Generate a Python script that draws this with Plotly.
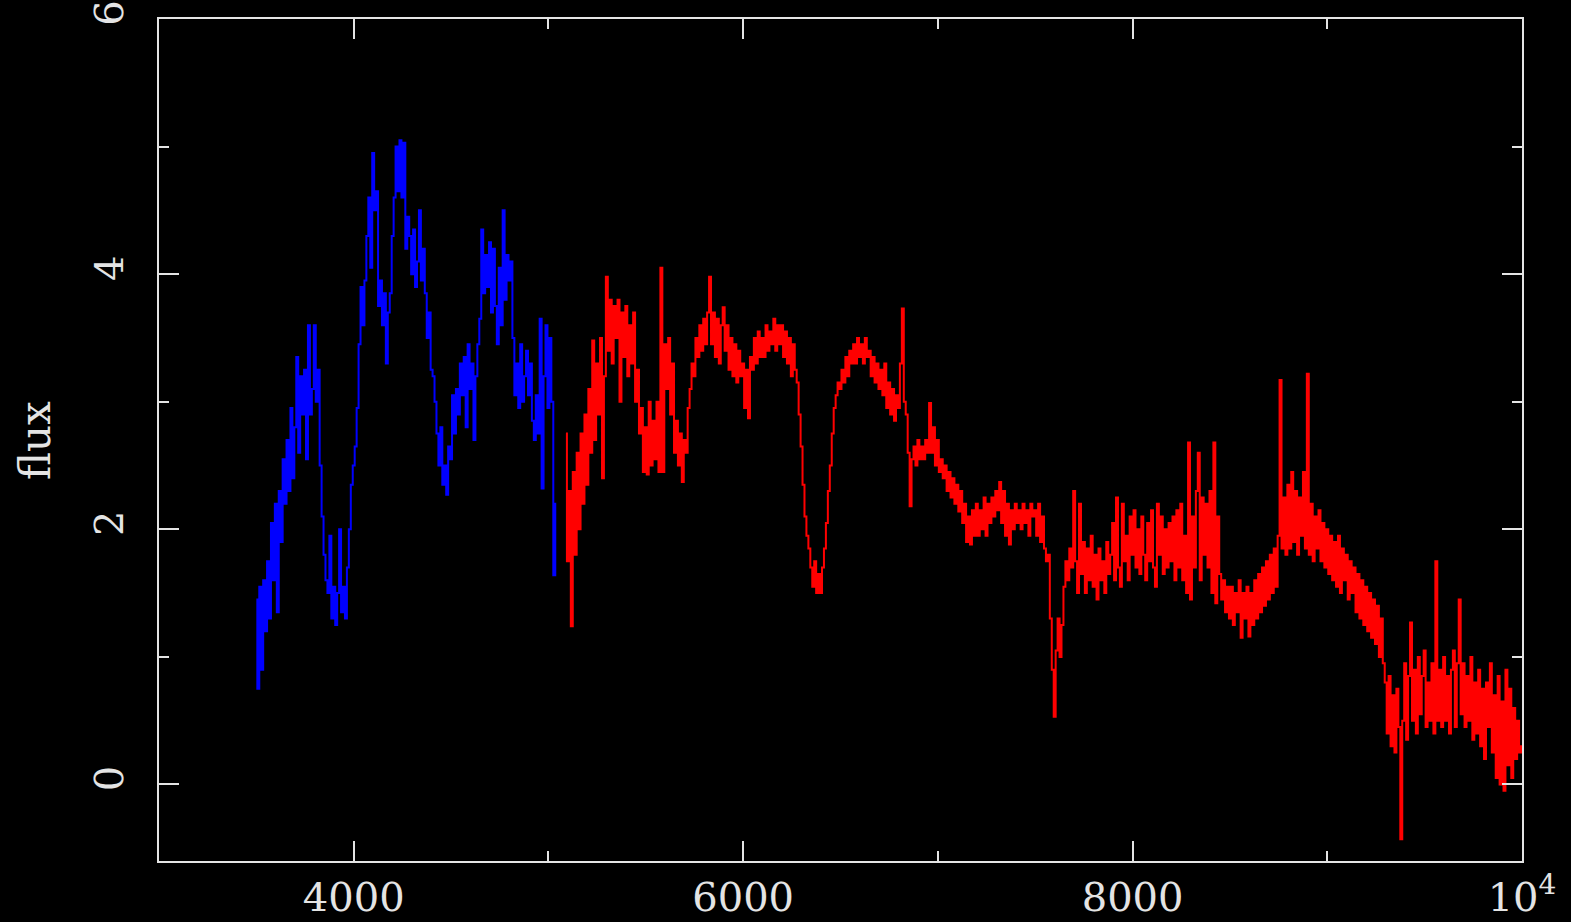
import numpy as np
import plotly.graph_objects as go

# ---- data ----
blue_start, blue_step = 3500, 10
blue_flux = [
    1.45, 0.75, 1.55, 0.9, 1.6, 1.2, 1.75, 1.3, 2.05, 1.6,
    2.2, 1.35, 2.3, 1.9, 2.55, 2.2, 2.7, 2.3, 2.95, 2.4,
    2.8, 3.35, 2.6, 3.2, 2.9, 3.25, 2.55, 3.6, 2.9, 3.1,
    3.6, 3.0, 3.25, 2.5, 2.1, 1.8, 1.6, 1.5, 1.95, 1.3,
    1.55, 1.25, 1.5, 2.0, 1.35, 1.55, 1.3, 1.7, 2.0, 2.35,
    2.5, 2.65, 2.95, 3.45, 3.9, 3.6, 3.95, 4.3, 4.6, 4.05,
    4.95, 4.5, 4.65, 3.75, 3.95, 3.6, 3.85, 3.3, 3.7, 3.85,
    4.3, 4.6, 5.0, 4.65, 5.05, 4.6, 5.03, 4.2, 4.45, 4.3,
    4.0, 4.35, 3.9, 4.1, 4.5, 3.95, 4.2, 3.85, 3.5, 3.7,
    3.25, 3.2, 3.0, 2.75, 2.5, 2.8, 2.35, 2.5, 2.27, 2.65,
    2.55, 3.05, 2.75, 3.1, 2.9, 3.3, 3.05, 3.35, 2.8, 3.45,
    3.1, 3.3, 2.7, 3.2, 3.45, 3.65, 4.35, 3.85, 4.15, 3.9,
    4.25, 3.7, 4.2, 3.75, 3.45, 4.05, 3.6, 4.5, 3.8, 4.15,
    3.95, 4.1, 3.5, 3.05, 3.3, 2.95, 3.45, 3.0, 3.2, 3.4,
    3.05, 3.3, 2.85, 2.7, 3.05, 2.75, 3.65, 2.32, 3.2, 3.6,
    2.95, 3.5, 3.0, 1.64, 2.2,
]

red_start, red_step = 5090, 10
red_flux = [
    # 5090 - 5190
    2.75, 1.75, 2.3, 1.24, 2.45, 1.8, 2.6, 2.0, 2.75, 2.2, 2.9,
    # 5200 ...
    2.35, 3.1, 2.6, 3.48, 2.7, 3.3, 2.9, 3.5, 2.4, 3.2,
    3.98, 3.4, 3.8, 3.3, 3.75, 3.5, 3.8, 3.0, 3.7, 3.35,
    3.75, 3.2, 3.6, 3.3, 3.7, 3.0, 3.25, 2.75, 2.95, 2.45,
    2.8, 2.43, 3.0, 2.5, 2.85, 2.55, 3.0, 2.45, 4.05, 2.45,
    3.45, 3.1, 3.5, 2.9, 3.3, 2.6, 2.85, 2.5, 2.75, 2.37,
    2.7, 2.6, 2.95, 3.1, 3.3, 3.2, 3.5, 3.35, 3.6, 3.4,
    3.65, 3.45, 3.7, 3.98, 3.45, 3.7, 3.35, 3.65, 3.3, 3.6,
    3.74, 3.4, 3.6, 3.25, 3.5, 3.2, 3.45, 3.15, 3.4, 3.2,
    3.3, 2.95, 3.25, 2.87, 3.35, 3.25, 3.5, 3.3, 3.55, 3.35,
    3.5, 3.35, 3.6, 3.4, 3.55, 3.45, 3.65, 3.4, 3.6, 3.45,
    3.6, 3.35, 3.55, 3.3, 3.5, 3.2, 3.45, 3.25, 3.15, 2.9,
    2.65, 2.35, 2.1, 1.95, 1.85, 1.7, 1.55, 1.75, 1.5, 1.65,
    1.5, 1.7, 1.85, 2.05, 2.3, 2.5, 2.75, 2.95, 3.05, 3.15,
    3.1, 3.25, 3.15, 3.35, 3.2, 3.4, 3.3, 3.45, 3.3, 3.5,
    3.35, 3.45, 3.3, 3.5, 3.35, 3.4, 3.2, 3.35, 3.15, 3.3,
    3.1, 3.25, 3.05, 3.3, 2.95, 3.15, 2.9, 3.1, 2.85, 3.05,
    2.95, 3.3, 3.73, 3.0, 2.9, 2.6, 2.18, 2.55, 2.65, 2.5,
    2.7, 2.55, 2.65, 2.55, 2.7, 2.6, 2.99, 2.6, 2.8, 2.5,
    2.7, 2.45, 2.55, 2.4, 2.5, 2.3, 2.45, 2.25, 2.4, 2.2,
    2.35, 2.14, 2.3, 2.05, 2.2, 1.9, 2.1, 1.88, 2.15, 1.95,
    2.2, 1.95, 2.15, 2.0, 2.25, 1.95, 2.2, 2.05, 2.25, 2.1,
    2.3, 2.15, 2.37, 2.05, 2.3, 1.95, 2.2, 1.88, 2.15, 2.0,
    2.2, 2.05, 2.15, 2.0, 2.2, 2.05, 2.15, 1.95, 2.2, 2.1,
    2.15, 1.95, 2.2, 1.9, 2.1, 1.85, 1.75, 1.8, 1.3, 0.9,
    0.53, 1.05, 1.3, 1.0, 1.25, 1.55, 1.75, 1.6, 1.85, 1.7,
    2.3, 1.75, 1.5, 2.2, 1.65, 1.9, 1.5, 1.85, 1.6, 1.95,
    1.55, 1.8, 1.45, 1.85, 1.6, 1.75, 1.5, 1.9, 1.65, 1.8,
    2.05, 1.6, 2.25, 1.7, 1.55, 2.2, 1.75, 1.95, 1.6, 2.1,
    1.8, 2.15, 1.7, 2.0, 1.65, 2.1, 1.8, 1.6, 2.05, 1.75,
    2.15, 1.7, 1.55, 2.2, 1.8, 2.1, 1.65, 2.0, 1.7, 2.05,
    1.75, 2.1, 1.6, 2.15, 1.7, 2.2, 1.6, 1.95, 1.5, 2.68,
    1.45, 2.1, 1.7, 2.3, 2.6, 1.6, 2.25, 1.8, 2.2, 1.7,
    2.3, 1.5, 2.68, 1.42, 2.1, 1.65, 1.45, 1.6, 1.35, 1.55,
    1.3, 1.55, 1.25, 1.5, 1.35, 1.6, 1.15, 1.5, 1.3, 1.55,
    1.16, 1.5, 1.25, 1.6, 1.3, 1.65, 1.35, 1.7, 1.4, 1.75,
    1.45, 1.8, 1.5, 1.85, 1.55, 1.95, 3.17, 1.85, 2.25, 1.8,
    2.35, 1.85, 2.45, 1.9, 2.3, 1.8, 2.25, 1.95, 2.45, 1.85,
    3.22, 1.8, 2.2, 1.75, 2.1, 1.85, 2.15, 1.75, 2.05, 1.7,
    2.0, 1.65, 1.95, 1.6, 1.9, 1.55, 1.95, 1.5, 1.85, 1.6,
    1.8, 1.45, 1.75, 1.5, 1.7, 1.35, 1.65, 1.3, 1.6, 1.25,
    1.55, 1.2, 1.5, 1.15, 1.45, 1.1, 1.4, 1.0, 1.3, 0.95,
    0.8, 0.4, 0.85, 0.3, 0.7, 0.25, 0.75, 0.45, -0.43, 0.5,
    0.95, 0.35, 0.85, 1.27, 0.5, 0.9, 0.4, 1.0, 0.55, 0.85,
    1.05, 0.45, 0.8, 0.5, 0.95, 0.4, 1.75, 0.5, 0.9, 0.45,
    1.0, 0.5, 0.85, 0.4, 0.9, 1.05, 0.45, 0.95, 1.45, 0.55,
    0.95, 0.45, 0.85, 0.5, 1.0, 0.35, 0.8, 0.4, 0.9, 0.3,
    0.75, 0.2, 0.8, 0.45, 0.95, 0.25, 0.7, 0.05, 0.85, 0.0,
    0.65, -0.05, 0.9, 0.15, 0.75, 0.05, 0.6, 0.2, 0.5, 0.25,
    # 10000
    0.3,
]

x_tickvals = [4000, 6000, 8000, 10000]
x_ticktext = ["4000", "6000", "8000", "10<sup>4</sup>"]
y_tickvals = [0, 2, 4, 6]
y_ticktext = ["0", "2", "4", "6"]

blue_wl = blue_start + blue_step * np.arange(len(blue_flux))
red_wl = red_start + red_step * np.arange(len(red_flux))

FG = "#e4e4e4"
FONT = "DejaVu Serif"

fig = go.Figure()
fig.add_trace(go.Scatter(x=blue_wl, y=blue_flux, mode="lines",
                         line=dict(color="#0000ff", width=2, shape="hvh"),
                         showlegend=False, hoverinfo="x+y"))
fig.add_trace(go.Scatter(x=red_wl, y=red_flux, mode="lines",
                         line=dict(color="#ff0000", width=2, shape="hvh"),
                         showlegend=False, hoverinfo="x+y"))

axis_common = dict(
    showgrid=False, zeroline=False, showline=True, linecolor=FG, linewidth=2,
    mirror="allticks", ticks="inside", tickcolor=FG, tickwidth=2, ticklen=20,
    tickfont=dict(family=FONT, size=40, color=FG), automargin=False,
)

fig.update_xaxes(range=[3000, 10000], tickmode="array", tickvals=x_tickvals,
                 ticktext=x_ticktext, ticklabelstandoff=0,
                 minor=dict(ticks="inside", tickvals=[3000, 5000, 7000, 9000],
                            ticklen=10, tickwidth=2, tickcolor=FG),
                 **axis_common)
fig.update_yaxes(range=[-0.6, 6], tickmode="array", tickvals=y_tickvals,
                 ticktext=y_ticktext, tickangle=-90, ticklabelstandoff=18,
                 minor=dict(ticks="inside", tickvals=[1, 3, 5],
                            ticklen=10, tickwidth=2, tickcolor=FG),
                 **axis_common)

fig.add_annotation(text="flux", xref="paper", yref="paper",
                   x=-0.091, y=0.5, xanchor="center", yanchor="middle",
                   textangle=-90, showarrow=False,
                   font=dict(family=FONT, size=42, color=FG))

fig.update_layout(
    width=1571, height=922,
    paper_bgcolor="black", plot_bgcolor="black",
    margin=dict(l=159, r=49, t=19, b=61),
)

fig.write_html("out.html")
